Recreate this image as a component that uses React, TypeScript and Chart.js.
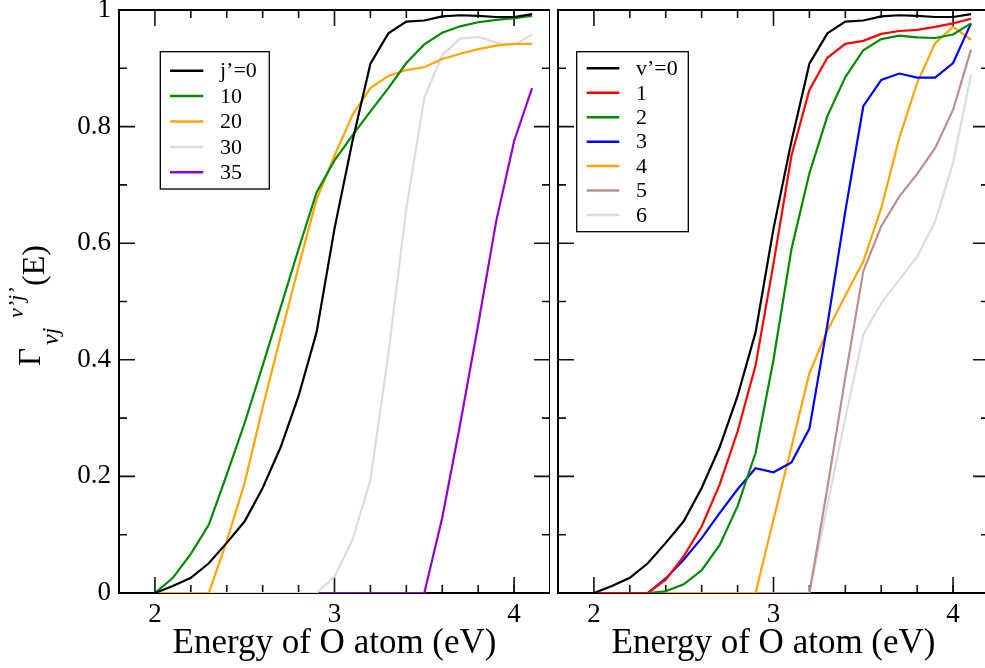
import React, { useEffect, useRef } from "react";
import { Chart, registerables } from "chart.js";

Chart.register(...registerables);

// ---------- data ----------
const energies = [1.8, 1.9, 2.0, 2.1, 2.2, 2.3, 2.4, 2.5, 2.6, 2.7, 2.8, 2.9, 3.0, 3.1, 3.2, 3.3, 3.4, 3.5, 3.6, 3.7, 3.8, 3.9, 4.0, 4.1];

const leftLabels = ["j\u2019=0", "10", "20", "30", "35"];
const leftColors = ["#000000", "#008b00", "#ffa500", "#dcdcdc", "#9400d3"];
const j0 = [0, 0, 0, 0.012, 0.026, 0.051, 0.086, 0.123, 0.18, 0.25, 0.338, 0.447, 0.625, 0.775, 0.908, 0.96, 0.98, 0.982, 0.989, 0.991, 0.99, 0.988, 0.988, 0.993];
const j10 = [0, 0, 0, 0.026, 0.067, 0.117, 0.203, 0.292, 0.39, 0.49, 0.59, 0.687, 0.742, 0.785, 0.826, 0.866, 0.909, 0.941, 0.961, 0.972, 0.979, 0.983, 0.986, 0.99];
const j20 = [0, 0, 0, 0, 0, 0, 0.089, 0.189, 0.318, 0.44, 0.56, 0.675, 0.75, 0.82, 0.866, 0.887, 0.897, 0.902, 0.916, 0.925, 0.933, 0.939, 0.942, 0.942];
const j30 = [0, 0, 0, 0, 0, 0, 0, 0, 0, 0, 0, 0, 0.028, 0.091, 0.194, 0.41, 0.66, 0.849, 0.923, 0.951, 0.954, 0.944, 0.94, 0.958];
const j35 = [0, 0, 0, 0, 0, 0, 0, 0, 0, 0, 0, 0, 0, 0, 0, 0, 0, 0, 0.129, 0.29, 0.46, 0.637, 0.775, 0.866];

const rightLabels = ["v\u2019=0", "1", "2", "3", "4", "5", "6"];
const rightColors = ["#000000", "#ff0000", "#008b00", "#0000ff", "#ffa500", "#bc8f8f", "#dcdcdc"];
const v0 = [0, 0, 0, 0.012, 0.026, 0.051, 0.086, 0.123, 0.18, 0.25, 0.338, 0.447, 0.625, 0.775, 0.908, 0.96, 0.98, 0.982, 0.989, 0.991, 0.99, 0.988, 0.988, 0.993];
const v1 = [0, 0, 0, 0, 0, 0, 0.023, 0.063, 0.114, 0.186, 0.277, 0.39, 0.565, 0.75, 0.863, 0.918, 0.942, 0.947, 0.959, 0.964, 0.966, 0.971, 0.977, 0.985];
const v2 = [0, 0, 0, 0, 0, 0, 0.003, 0.015, 0.039, 0.082, 0.149, 0.24, 0.4, 0.59, 0.72, 0.818, 0.885, 0.931, 0.95, 0.956, 0.953, 0.952, 0.958, 0.977];
const v3 = [0, 0, 0, 0, 0, 0, 0.025, 0.057, 0.094, 0.137, 0.178, 0.214, 0.207, 0.224, 0.282, 0.46, 0.655, 0.835, 0.88, 0.891, 0.884, 0.884, 0.909, 0.977];
const v4 = [0, 0, 0, 0, 0, 0, 0, 0, 0, 0, 0, 0, 0.126, 0.251, 0.377, 0.45, 0.51, 0.569, 0.66, 0.78, 0.875, 0.943, 0.971, 0.949];
const v5 = [0, 0, 0, 0, 0, 0, 0, 0, 0, 0, 0, 0, 0, 0, 0, 0.18, 0.37, 0.552, 0.629, 0.68, 0.719, 0.763, 0.829, 0.932];
const v6 = [0, 0, 0, 0, 0, 0, 0, 0, 0, 0, 0, 0, 0, 0, 0, 0.15, 0.3, 0.443, 0.497, 0.537, 0.577, 0.637, 0.738, 0.889];

const xMajorTicks = [2, 3, 4];
const xMinorTicks = [2.2, 2.4, 2.6, 2.8, 3.2, 3.4, 3.6, 3.8, 4.0];
const yMajorTicks = [0, 0.2, 0.4, 0.6, 0.8, 1];
const yMinorTicks = [0.1, 0.3, 0.5, 0.7, 0.9];
const xTitle = "Energy of O atom (eV)";

const FONT = "'Liberation Serif', 'Times New Roman', serif";

// ---------- plugins ----------
const frameTicksPlugin = {
  id: "frameTicks",
  beforeDatasetsDraw(chart: any) {
    const { ctx, chartArea: a, scales } = chart;
    const xs = scales.x;
    const ys = scales.y;
    ctx.save();
    ctx.strokeStyle = "#111";
    ctx.lineWidth = 1.6;
    const drawX = (vals: number[], len: number) => {
      vals.forEach((v) => {
        const px = xs.getPixelForValue(v);
        ctx.beginPath();
        ctx.moveTo(px, a.bottom);
        ctx.lineTo(px, a.bottom - len);
        ctx.moveTo(px, a.top);
        ctx.lineTo(px, a.top + len);
        ctx.stroke();
      });
    };
    const drawY = (vals: number[], len: number) => {
      vals.forEach((v) => {
        const py = ys.getPixelForValue(v);
        ctx.beginPath();
        ctx.moveTo(a.left, py);
        ctx.lineTo(a.left + len, py);
        ctx.moveTo(a.right, py);
        ctx.lineTo(a.right - len, py);
        ctx.stroke();
      });
    };
    drawX(xMajorTicks, 16);
    drawX(xMinorTicks, 8);
    drawY(yMajorTicks, 16);
    drawY(yMinorTicks, 8);
    ctx.strokeStyle = "#000";
    ctx.lineWidth = 2;
    ctx.strokeRect(a.left, a.top, a.right - a.left, a.bottom - a.top);
    ctx.restore();
  },
};

const boxLegendPlugin = {
  id: "boxLegend",
  afterDatasetsDraw(chart: any, _args: any, o: any) {
    if (!o || !o.w) return;
    const { ctx, chartArea: a } = chart;
    const x = a.left + o.x;
    const y = a.top + o.y;
    ctx.save();
    ctx.fillStyle = "#fff";
    ctx.fillRect(x, y, o.w, o.h);
    ctx.strokeStyle = "#000";
    ctx.lineWidth = 1.3;
    ctx.strokeRect(x, y, o.w, o.h);
    chart.data.datasets.forEach((ds: any, i: number) => {
      const ry = y + o.rowStart + i * o.rowGap;
      ctx.strokeStyle = ds.borderColor;
      ctx.lineWidth = 2.5;
      ctx.beginPath();
      ctx.moveTo(x + o.lineX0, ry);
      ctx.lineTo(x + o.lineX1, ry);
      ctx.stroke();
      ctx.fillStyle = "#000";
      ctx.font = `22px ${FONT}`;
      ctx.textBaseline = "middle";
      ctx.textAlign = "left";
      ctx.fillText(ds.label, x + o.textX, ry + 1);
    });
    ctx.restore();
  },
};

const yLabelPlugin = {
  id: "yLabel",
  afterDraw(chart: any, _args: any, o: any) {
    if (!o || !o.show) return;
    const { ctx } = chart;
    ctx.save();
    ctx.translate(o.baseX, o.startY);
    ctx.rotate(-Math.PI / 2);
    ctx.fillStyle = "#000";
    ctx.textBaseline = "alphabetic";
    ctx.textAlign = "left";
    ctx.font = `31px ${FONT}`;
    ctx.fillText("\u0393", -1, -4);
    ctx.font = `italic 24px ${FONT}`;
    ctx.fillText("vj", 20, 14);
    ctx.font = `italic 22px ${FONT}`;
    ctx.fillText("v\u2019j\u2019", 47, -21);
    ctx.font = `32px ${FONT}`;
    ctx.fillText("(E)", 79, 0);
    ctx.restore();
  },
};

function makeDatasets(series: number[][], labels: string[], colors: string[]) {
  return series.map((vals, i) => ({
    label: labels[i],
    data: energies.map((e, k) => ({ x: e, y: vals[k] })),
    borderColor: colors[i],
    backgroundColor: colors[i],
    borderWidth: 2.2,
    pointRadius: 0,
    tension: 0,
    fill: false,
  }));
}

function makeConfig(opts: {
  series: number[][];
  labels: string[];
  colors: string[];
  yWidth: number;
  showYTicks: boolean;
  legend: any;
  yLabel: boolean;
}): any {
  return {
    type: "line",
    data: { datasets: makeDatasets(opts.series, opts.labels, opts.colors) },
    plugins: [frameTicksPlugin, boxLegendPlugin, yLabelPlugin],
    options: {
      animation: false,
      responsive: false,
      devicePixelRatio: 1,
      layout: { padding: { top: 10, left: 0, right: 0, bottom: 0 } },
      plugins: {
        legend: { display: false },
        tooltip: { enabled: false },
        boxLegend: opts.legend,
        yLabel: { show: opts.yLabel, baseX: 44.3, startY: 365 },
      },
      scales: {
        x: {
          type: "linear",
          min: 1.8,
          max: 4.2,
          grid: { display: false, drawTicks: false },
          border: { display: false },
          afterBuildTicks: (s: any) => {
            s.ticks = xMajorTicks.map((v) => ({ value: v }));
          },
          afterFit: (s: any) => {
            s.height = 75;
            s.paddingLeft = 0;
            s.paddingRight = 0;
          },
          ticks: {
            padding: 6,
            maxRotation: 0,
            autoSkip: false,
            color: "#000",
            font: { family: FONT, size: 27 },
            callback: (v: any) => String(v),
          },
          title: {
            display: true,
            text: xTitle,
            color: "#000",
            font: { family: FONT, size: 35 },
            padding: { top: 0, bottom: 3.5 },
          },
        },
        y: {
          type: "linear",
          min: 0,
          max: 1,
          grid: { display: false, drawTicks: false },
          border: { display: false },
          afterBuildTicks: (s: any) => {
            s.ticks = yMajorTicks.map((v) => ({ value: v }));
          },
          afterFit: (s: any) => {
            s.width = opts.yWidth;
            s.paddingTop = 0;
            s.paddingBottom = 0;
          },
          ticks: {
            display: opts.showYTicks,
            padding: 8,
            color: "#000",
            font: { family: FONT, size: 27 },
            callback: (v: any) => String(Math.round(v * 10) / 10),
          },
        },
      },
    },
  };
}

export default function App() {
  const leftRef = useRef<HTMLCanvasElement | null>(null);
  const rightRef = useRef<HTMLCanvasElement | null>(null);

  useEffect(() => {
    const charts: Chart[] = [];
    if (leftRef.current) {
      charts.push(
        new Chart(
          leftRef.current,
          makeConfig({
            series: [j0, j10, j20, j30, j35],
            labels: leftLabels,
            colors: leftColors,
            yWidth: 119,
            showYTicks: true,
            yLabel: true,
            legend: { x: 41.3, y: 41.7, w: 109, h: 137.3, rowStart: 19, rowGap: 25.4, lineX0: 9.7, lineX1: 43, textX: 59.7 },
          })
        )
      );
    }
    if (rightRef.current) {
      charts.push(
        new Chart(
          rightRef.current,
          makeConfig({
            series: [v0, v1, v2, v3, v4, v5, v6],
            labels: rightLabels,
            colors: rightColors,
            yWidth: 8,
            showYTicks: false,
            yLabel: false,
            legend: { x: 18.7, y: 41.7, w: 111.6, h: 180, rowStart: 16.6, rowGap: 24.45, lineX0: 10, lineX1: 42.6, textX: 59.3 },
          })
        )
      );
    }
    return () => charts.forEach((c) => c.destroy());
  }, []);

  return (
    <div
      style={{
        position: "fixed",
        left: 0,
        top: 0,
        width: 985,
        height: 668,
        overflow: "hidden",
        background: "#fff",
      }}
    >
      <canvas ref={leftRef} width={550} height={668} style={{ position: "absolute", left: 0, top: 0, width: 550, height: 668 }} />
      <canvas ref={rightRef} width={439} height={668} style={{ position: "absolute", left: 550, top: 0, width: 439, height: 668 }} />
    </div>
  );
}
